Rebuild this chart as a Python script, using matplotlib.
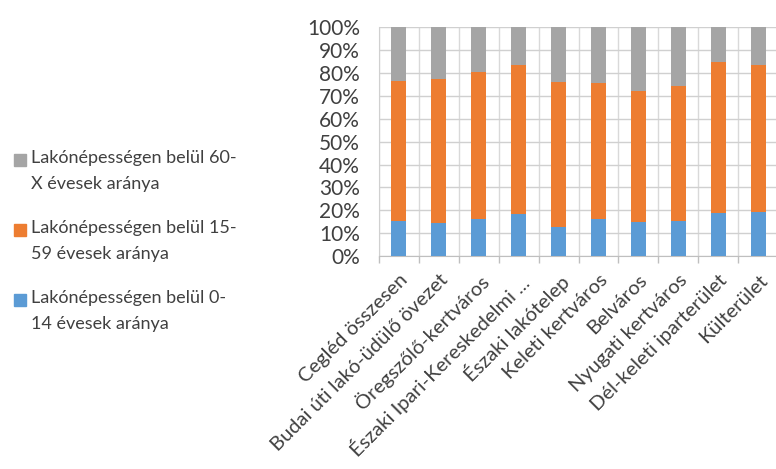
import matplotlib
matplotlib.use('Agg')
import matplotlib.pyplot as plt
from matplotlib.patches import Rectangle
import numpy as np

plt.rcParams['font.family'] = ['Lato', 'DejaVu Sans']

categories = ['Cegléd összesen', 'Budai úti lakó-üdülő övezet', 'Öregszőlő-kertváros',
              'Északi Ipari-Kereskedelmi ...', 'Északi lakótelep', 'Keleti kertváros',
              'Belváros', 'Nyugati kertváros', 'Dél-keleti iparterület', 'Külterület']
age_0_14 = [15.5, 14.4, 16.3, 18.5, 12.5, 16.3, 15.0, 15.5, 19.0, 19.4]
age_15_59 = [61.2, 62.9, 64.3, 65.0, 63.7, 59.4, 57.3, 58.8, 66.0, 64.1]
age_60_x = [23.3, 22.7, 19.4, 16.5, 23.8, 24.3, 27.7, 25.7, 15.0, 16.5]

labels = ['Lakónépességen belül 60-\nX évesek aránya',
          'Lakónépességen belül 15-\n59 évesek aránya',
          'Lakónépességen belül 0-\n14 évesek aránya']
colors = ['#A5A5A5', '#ED7D31', '#5B9BD5']
txt = '#404040'

fig = plt.figure(figsize=(7.76, 4.69), dpi=100)
ax = fig.add_axes([0.488, 0.454, 0.515, 0.488])

x = np.arange(len(categories))
w = 0.36
b1 = np.array(age_0_14)
b2 = b1 + np.array(age_15_59)
ax.bar(x, age_0_14, w, color=colors[2], zorder=3)
ax.bar(x, age_15_59, w, bottom=b1, color=colors[1], zorder=3)
ax.bar(x, age_60_x, w, bottom=b2, color=colors[0], zorder=3)

ax.set_xlim(-0.5, len(categories) - 0.5)
ax.set_ylim(0, 100)
ax.set_yticks(np.arange(0, 101, 10))
ax.set_yticklabels([f'{v}%' for v in range(0, 101, 10)], fontsize=15, color=txt)
ax.tick_params(axis='y', length=0, pad=13.5)

ax.set_xticks(x)
ax.set_xticklabels(categories, rotation=45, ha='right', rotation_mode='anchor',
                   fontsize=14.5, color=txt)
ax.tick_params(axis='x', which='major', length=0, pad=11)
ax.set_xticks(np.arange(-0.5, len(categories), 1), minor=True)
ax.tick_params(axis='x', which='minor', length=5, color='#BFBFBF', width=1)

ax.grid(axis='y', color='#D0D0D0', lw=1, zorder=0)
ax.grid(axis='x', which='minor', color='#D9D9D9', lw=1, zorder=0)
for s in ['top', 'right']:
    ax.spines[s].set_visible(False)
ax.spines['left'].set_color('#D0D0D0')
ax.spines['bottom'].set_color('#BFBFBF')

# legend
H = 469.0
Wd = 776.0
ys = [160, 230, 300]
for lab, c, y in zip(labels, colors, ys):
    fig.patches.append(Rectangle((14 / Wd, 1 - (y + 6) / H), 12 / Wd, 12 / H,
                                 transform=fig.transFigure, color=c))
    fig.text(31 / Wd, 1 - (y - 10) / H, lab, fontsize=13, color=txt,
             va='top', ha='left', linespacing=1.75)

fig.savefig('out.png', dpi=100)
